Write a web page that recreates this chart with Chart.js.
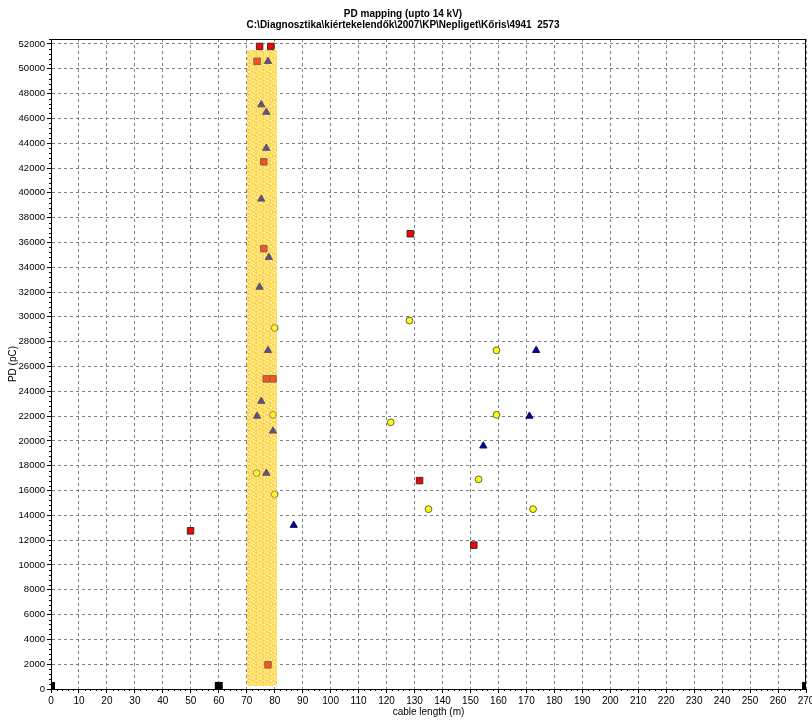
<!DOCTYPE html>
<html>
<head>
<meta charset="utf-8">
<script src="https://cdn.jsdelivr.net/npm/chart.js@4/dist/chart.umd.min.js"></script>
<style>
  html, body { margin: 0; padding: 0; background: #fff; overflow: hidden; }
  canvas { display: block; }
</style>
</head>
<body>
<canvas id="pdmap" width="812" height="720"></canvas>
<script>
// ---- texts ----
const chartTitle = ['PD mapping (upto 14 kV)', 'C:\\Diagnosztika\\kiértekelendők\\2007\\KP\\Nepliget\\Kőris\\4941  2573'];
const xAxisTitle = 'cable length (m)';
const yAxisTitle = 'PD (pC)';

// ---- axes ----
const xRange = [0, 270];
const yRange = [0, 52400];
const xTicks = [0, 10, 20, 30, 40, 50, 60, 70, 80, 90, 100, 110, 120, 130, 140, 150, 160, 170, 180, 190, 200, 210, 220, 230, 240, 250, 260, 270];
const yTicks = [0, 2000, 4000, 6000, 8000, 10000, 12000, 14000, 16000, 18000, 20000, 22000, 24000, 26000,
                28000, 30000, 32000, 34000, 36000, 38000, 40000, 42000, 44000, 46000, 48000, 50000, 52000];
const xMinorStep = 2;
const yMinorStep = 400;

// ---- PD events: location (m) and charge (pC) ----
const squaresX = [74.6, 78.6, 73.7, 76.1, 76.1, 77.0, 79.4, 77.6, 49.9, 128.5, 131.8, 151.2];
const squaresY = [51800, 51800, 50600, 42500, 35500, 25000, 25000, 1950, 12750, 36700, 16800, 11600];

const trianglesX = [77.6, 75.2, 77.0, 77.0, 75.2, 77.9, 74.6, 77.6, 75.2, 73.7, 79.4, 77.0, 86.8, 173.5, 171.1, 154.6];
const trianglesY = [50600, 47100, 46500, 43600, 39500, 34800, 32400, 27300, 23200, 22000, 20800, 17400, 13200, 27300, 22000, 19600];

const circlesX = [80.0, 79.4, 73.5, 80.0, 128.2, 159.3, 121.5, 159.3, 152.9, 135.0, 172.4];
const circlesY = [29100, 22100, 17400, 15700, 29700, 27300, 21500, 22100, 16900, 14500, 14500];

// cable joints / ends
const jointsX = [0, 60, 270];
const jointsY = [250, 250, 250];

// concentration zone
const zoneX = [70, 80.8];
const zoneY = [250, 51500];

const toPoints = (xs, ys) => xs.map((x, i) => ({ x, y: ys[i] }));

// grainy yellow fill for the concentration zone
function makeGrain() {
  const shades = ['#ffd84a', '#ffe686', '#fff4c0', '#fbcc40', '#ffe060'];
  const map = [
    '0213041',
    '3402120',
    '1030423',
    '2410301',
    '0123410',
    '4302042',
    '1240310'
  ];
  const c = document.createElement('canvas');
  c.width = map[0].length; c.height = map.length;
  const g = c.getContext('2d');
  map.forEach((row, y) => {
    [...row].forEach((ch, x) => {
      g.fillStyle = shades[+ch];
      g.fillRect(x, y, 1, 1);
    });
  });
  return c;
}
const grainCanvas = makeGrain();

function zoneRect(chart) {
  const xs = chart.scales.x, ys = chart.scales.y;
  const l = Math.round(xs.getPixelForValue(zoneX[0]));
  const r = Math.round(xs.getPixelForValue(zoneX[1]));
  const t = Math.round(ys.getPixelForValue(zoneY[1]));
  const b = Math.round(ys.getPixelForValue(zoneY[0]));
  return { l, r, t, b };
}

const zonePlugin = {
  id: 'zone',
  beforeDatasetsDraw(chart) {
    const ctx = chart.ctx;
    const z = zoneRect(chart);
    ctx.save();
    ctx.fillStyle = ctx.createPattern(grainCanvas, 'repeat');
    ctx.fillRect(z.l, z.t, z.r - z.l, z.b - z.t);
    ctx.restore();
  },
  afterDatasetsDraw(chart) {
    // light veil over the events inside the zone
    const ctx = chart.ctx;
    const z = zoneRect(chart);
    ctx.save();
    ctx.globalAlpha = 0.35;
    ctx.fillStyle = ctx.createPattern(grainCanvas, 'repeat');
    ctx.fillRect(z.l, z.t, z.r - z.l, z.b - z.t);
    ctx.restore();
  }
};

const framePlugin = {
  id: 'frame',
  afterDraw(chart) {
    const ctx = chart.ctx;
    const a = chart.chartArea;
    const xs = chart.scales.x, ys = chart.scales.y;
    ctx.save();
    ctx.strokeStyle = '#000';
    ctx.lineWidth = 1;
    ctx.strokeRect(Math.round(a.left) + 0.5, Math.round(a.top) + 0.5,
                   Math.round(a.right - a.left) - 1, Math.round(a.bottom - a.top));
    // minor tick marks
    ctx.beginPath();
    for (let v = xRange[0]; v <= xRange[1]; v += xMinorStep) {
      if (v % 10 === 0) continue;
      const px = Math.round(xs.getPixelForValue(v)) + 0.5;
      ctx.moveTo(px, a.bottom);
      ctx.lineTo(px, a.bottom + 2);
    }
    for (let v = yRange[0]; v <= yRange[1]; v += yMinorStep) {
      if (v % 2000 === 0) continue;
      const py = Math.round(ys.getPixelForValue(v)) + 0.5;
      ctx.moveTo(a.left - 2, py);
      ctx.lineTo(a.left, py);
    }
    ctx.stroke();
    ctx.restore();
  }
};

Chart.defaults.font.family = "'Liberation Sans', Arial, sans-serif";
Chart.defaults.font.size = 10;
Chart.defaults.color = '#000';

new Chart(document.getElementById('pdmap'), {
  type: 'scatter',
  data: {
    datasets: [
      {
        label: 'squares',
        data: toPoints(squaresX, squaresY),
        pointStyle: 'rect',
        pointRadius: 4.6,
        backgroundColor: '#ff0000',
        borderColor: '#303030',
        borderWidth: 1
      },
      {
        label: 'triangles',
        data: toPoints(trianglesX, trianglesY),
        pointStyle: 'triangle',
        pointRadius: 4.2,
        backgroundColor: '#0000b4',
        borderColor: '#101040',
        borderWidth: 1
      },
      {
        label: 'circles',
        data: toPoints(circlesX, circlesY),
        pointStyle: 'circle',
        pointRadius: 3.4,
        backgroundColor: '#ffff00',
        borderColor: '#606060',
        borderWidth: 1
      },
      {
        label: 'joints',
        data: toPoints(jointsX, jointsY),
        pointStyle: 'rect',
        pointRadius: 5.6,
        backgroundColor: '#000',
        borderColor: '#000',
        borderWidth: 0,
        clip: 0
      }
    ]
  },
  options: {
    responsive: false,
    animation: false,
    events: [],
    layout: { padding: { left: 0, right: 6, top: 0, bottom: 0 } },
    plugins: {
      legend: { display: false },
      tooltip: { enabled: false },
      title: {
        display: true,
        text: chartTitle,
        color: '#000',
        font: { size: 10, weight: 'bold', lineHeight: 1.15 },
        padding: { top: 8, bottom: 8 }
      }
    },
    scales: {
      x: {
        type: 'linear',
        min: xRange[0],
        max: xRange[1],
        afterBuildTicks: (s) => { s.ticks = xTicks.map(v => ({ value: v })); },
        afterFit: (s) => { s.height = 31; s.paddingRight = 0; s.paddingLeft = 0; },
        ticks: { padding: 2, maxRotation: 0, autoSkip: false, color: '#000', font: { size: 10 } },
        grid: { color: '#808080', lineWidth: 1, tickColor: '#000', tickLength: 4 },
        border: { color: '#000', width: 1, dash: [3, 3] },
        title: { display: true, text: xAxisTitle, color: '#000', font: { size: 10 }, padding: { top: 0, bottom: 2 } }
      },
      y: {
        type: 'linear',
        min: yRange[0],
        max: yRange[1],
        afterBuildTicks: (s) => { s.ticks = yTicks.map(v => ({ value: v })); },
        afterFit: (s) => { s.width = 51; },
        ticks: { padding: 2, autoSkip: false, color: '#000', font: { size: 9.5 }, callback: (v) => String(v) },
        grid: { color: '#808080', lineWidth: 1, tickColor: '#000', tickLength: 4 },
        border: { color: '#000', width: 1, dash: [3, 3] },
        title: { display: true, text: yAxisTitle, color: '#000', font: { size: 10 }, padding: { top: 7, bottom: 0 } }
      }
    }
  },
  plugins: [zonePlugin, framePlugin]
});
</script>
</body>
</html>
